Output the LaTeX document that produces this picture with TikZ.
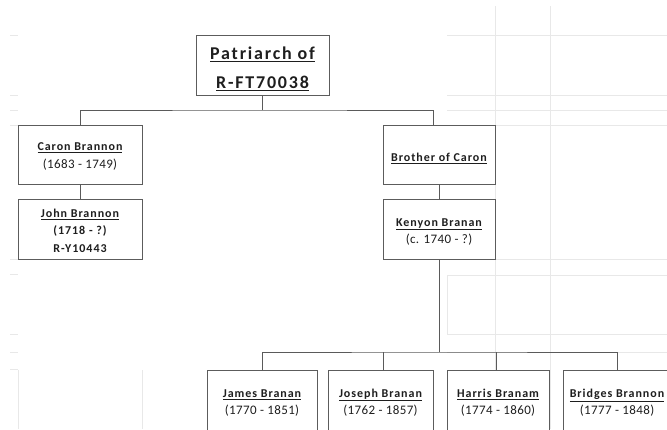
\documentclass[tikz,border=0pt]{standalone}
\usepackage{fontspec}
\setmainfont{Carlito}
\newfontfamily\namefont[LetterSpace=8]{Carlito}
\newfontfamily\datefont[LetterSpace=3]{Carlito}
\newfontfamily\rootfont[LetterSpace=10]{Carlito}
\newcommand\ulin[1]{\leavevmode\vtop{\hbox{#1}\kern1.6pt\hrule height 0.9pt}}
\definecolor{boxc}{HTML}{5C5C5C}
\definecolor{linec}{HTML}{5A5A5A}
\definecolor{gridc}{HTML}{E8E8E8}
\definecolor{txtc}{HTML}{1E1E1E}
\begin{document}
\begin{tikzpicture}[x=1pt,y=-1pt,
  box/.style={draw=boxc, line width=0.85pt, fill=white, inner sep=0pt},
  conn/.style={draw=linec, line width=0.9pt},
  gridl/.style={draw=gridc, line width=0.8pt},
  nametxt/.style={anchor=base, inner sep=0pt, text=txtc, font=\namefont\bfseries\fontsize{12}{14}\selectfont},
  datetxt/.style={anchor=base, inner sep=0pt, text=txtc, font=\datefont\fontsize{13}{15}\selectfont},
  roottxt/.style={anchor=base, inner sep=0pt, text=txtc, font=\rootfont\bfseries\fontsize{18}{20}\selectfont}]
\useasboundingbox (0,0) rectangle (667,429);
\clip (0,0) rectangle (667,429);
% faint spreadsheet grid
\foreach \yy in {35,95,110,125} {\draw[gridl] (447,\yy) -- (667,\yy); \draw[gridl] (10,\yy) -- (18,\yy);}
\foreach \yy in {259,274,334,352,369} {\draw[gridl] (10,\yy) -- (18,\yy);}
\draw[gridl] (495,259) -- (667,259);
\draw[gridl] (447,275) rectangle (670,334);
\draw[gridl] (447,352) -- (667,352);
\draw[gridl] (495,6) -- (495,429);
\draw[gridl] (550,6) -- (550,429);
\draw[gridl] (18,370) -- (18,429);
\draw[gridl] (142,370) -- (142,429);
% boxes
\node[box, minimum width=133pt, minimum height=60pt] (root) at (262.5,65) {};
\node[box, minimum width=124pt, minimum height=59pt] (caron) at (80,154.5) {};
\node[box, minimum width=124pt, minimum height=60pt] (john) at (80,229) {};
\node[box, minimum width=112pt, minimum height=59pt] (brother) at (439,154.5) {};
\node[box, minimum width=112pt, minimum height=60pt] (kenyon) at (439,229) {};
\node[box, minimum width=110pt, minimum height=60pt] (james) at (262,400) {};
\node[box, minimum width=105pt, minimum height=60pt] (joseph) at (380.5,400) {};
\node[box, minimum width=102pt, minimum height=60pt] (harris) at (498,400) {};
\node[box, minimum width=108pt, minimum height=60pt] (bridges) at (617,400) {};
% texts
\node[roottxt] (rootA) at (262.5,59) {\ulin{Patriarch of}};
\node[roottxt] (rootB) at (262.5,88) {\ulin{R-FT70038}};
\node[nametxt] (caronN) at (80,150) {\ulin{Caron Brannon}};
\node[datetxt] (caronD) at (80,168) {(1683 - 1749)};
\node[nametxt] (johnN) at (80,217) {\ulin{John Brannon}};
\node[nametxt] (johnD) at (80,234.5) {(1718 - ?)};
\node[nametxt] (johnR) at (80,252) {R-Y10443};
\node[nametxt] (brotherN) at (439,161) {\ulin{Brother of Caron}};
\node[nametxt] (kenyonN) at (439,226) {\ulin{Kenyon Branan}};
\node[datetxt] (kenyonD) at (439,243) {(c. 1740 - ?)};
\node[nametxt] (jamesN) at (262,397) {\ulin{James Branan}};
\node[datetxt] (jamesD) at (262,414) {(1770 - 1851)};
\node[nametxt] (josephN) at (380.5,397) {\ulin{Joseph Branan}};
\node[datetxt] (josephD) at (380.5,414) {(1762 - 1857)};
\node[nametxt] (harrisN) at (498,397) {\ulin{Harris Branam}};
\node[datetxt] (harrisD) at (498,414) {(1774 - 1860)};
\node[nametxt] (bridgesN) at (617,397) {\ulin{Bridges Brannon}};
\node[datetxt] (bridgesD) at (617,414) {(1777 - 1848)};
% connectors
\coordinate (bar1) at (262.5,110);
\coordinate (bdrop) at (433,125);
\draw[conn] (root.south) -- (bar1);
\draw[conn] (caron.north) |- (bar1) -| (bdrop);
\draw[conn] (caron.south) -- (john.north);
\draw[conn] (brother.south) -- (kenyon.north);
\coordinate (bar2) at (439,352);
\coordinate (jodrop) at (383,370);
\coordinate (hadrop) at (496,370);
\draw[conn] (kenyon.south) -- (bar2);
\draw[conn] (james.north) |- (bar2) -| (bridges.north);
\draw[conn] (jodrop) -- (jodrop |- bar2);
\draw[conn] (hadrop) -- (hadrop |- bar2);
\end{tikzpicture}
\end{document}
